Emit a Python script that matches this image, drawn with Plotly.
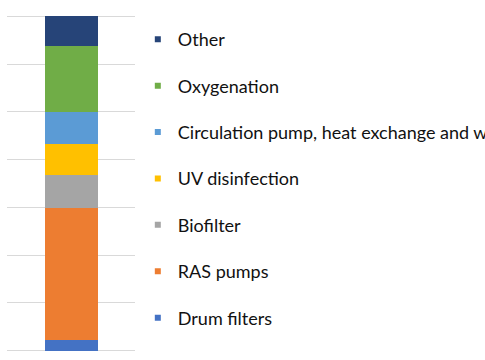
import plotly.graph_objects as go

categories = [""]
series_names = ["Drum filters", "RAS pumps", "Biofilter", "UV disinfection",
                "Circulation pump, heat exchange and water treatment", "Oxygenation", "Other"]
series_values = [0.224, 2.767, 0.677, 0.650, 0.671, 1.383, 0.629]
series_colors = ["#4472C4", "#ED7D31", "#A5A5A5", "#FFC000", "#5B9BD5", "#70AD47", "#264478"]

fig = go.Figure()
for name, val, col in zip(series_names, series_values, series_colors):
    fig.add_trace(go.Bar(x=categories, y=[val], name=name, marker=dict(color=col, line=dict(width=0)),
                         width=0.414, showlegend=False))

n = len(series_names)
for i in reversed(range(n)):
    fig.add_trace(go.Scatter(x=[None], y=[None], mode="markers", name=series_names[i],
                             legendgroup=series_names[i], legendrank=n - i,
                             marker=dict(symbol="square", size=6, color=series_colors[i]),
                             showlegend=True))

fig.update_layout(
    barmode="stack",
    width=485, height=360,
    margin=dict(l=7, r=350, t=15, b=8, autoexpand=False),
    paper_bgcolor="white", plot_bgcolor="white",
    font=dict(family="Lato", size=18, color="#111111"),
    xaxis=dict(range=[-0.5, 0.5], showticklabels=False, showgrid=False, zeroline=False, showline=False),
    yaxis=dict(range=[-0.03, 7.03], dtick=1, showticklabels=False, showgrid=True, gridcolor="#d9d9d9",
               gridwidth=1, zeroline=True, zerolinecolor="#d9d9d9", zerolinewidth=1, showline=False),
    legend=dict(x=1.022, xanchor="left", y=0.982, yanchor="top", traceorder="grouped",
                tracegroupgap=20, bgcolor="rgba(0,0,0,0)", font=dict(size=18)),
    showlegend=True,
)

fig.write_html("out.html", config={"displayModeBar": False},
               post_script="document.body.style.margin='0';")
